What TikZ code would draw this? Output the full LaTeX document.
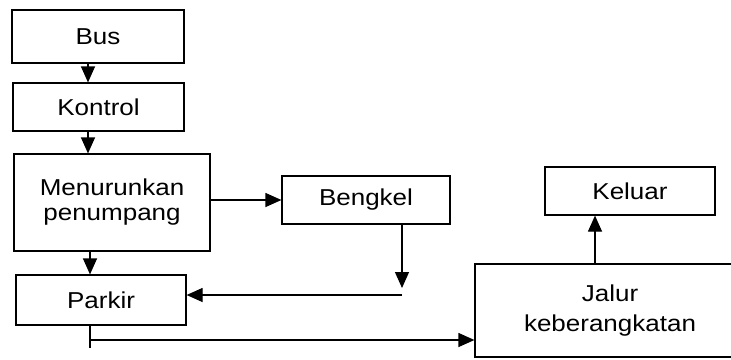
\documentclass[tikz,border=0pt]{standalone}
\usepackage{fontspec}
\setmainfont{Liberation Sans}[FakeStretch=1.13]
\usetikzlibrary{arrows.meta}
\begin{document}
\begin{tikzpicture}[x=1pt,y=-1pt,
  box/.style={draw,line width=1.2pt,inner sep=0pt,align=center,
    font=\fontsize{23}{25}\selectfont},
  arr/.style={line width=1.2pt,-{Triangle[length=16pt,width=14pt]}},
  ln/.style={line width=1.2pt}]
\useasboundingbox (0,0) rectangle (731,359);
\clip (0,0) rectangle (731,359);
\node[box,minimum width=172pt,minimum height=53pt] (Bus) at (98,36.5) {Bus};
\node[box,minimum width=171pt,minimum height=48pt] (Kontrol) at (98.5,107) {Kontrol};
\node[box,minimum width=196pt,minimum height=97pt] (Men) at (112,202.5) {Menurunkan\\penumpang};
\node[box,minimum width=168pt,minimum height=48pt] (Bengkel) at (366,200) {Bengkel};
\node[box,minimum width=170pt,minimum height=50pt] (Parkir) at (101,300) {Parkir};
\node[box,minimum width=170pt,minimum height=48pt] (Keluar) at (630,191) {Keluar};
\node[box,minimum width=270pt,minimum height=93pt,font=\fontsize{23}{30}\selectfont] (Jalur) at (610,310.5) {Jalur\\keberangkatan};
\coordinate (xa) at (88,0);
\coordinate (xb) at (90,0);
\coordinate (xc) at (595,0);
\coordinate (bk) at (402,288);
\coordinate (bk2) at (402,295);
\coordinate (pk) at (90,348);
\coordinate (pk2) at (90,340);
\draw[arr] (Bus.south -| xa) -- (Kontrol.north -| xa);
\draw[arr] (Kontrol.south -| xa) -- (Men.north -| xa);
\draw[arr] (Men.east |- Bengkel.west) -- (Bengkel.west);
\draw[arr] (Men.south -| xb) -- (Parkir.north -| xb);
\draw[arr] (Bengkel.south -| bk) -- (bk);
\draw[arr] (bk2) -- (Parkir.east |- bk2);
\draw[ln] (Parkir.south -| pk) -- (pk);
\draw[arr] (pk2) -- (Jalur.west |- pk2);
\draw[arr] (Jalur.north -| xc) -- (Keluar.south -| xc);
\end{tikzpicture}
\end{document}
